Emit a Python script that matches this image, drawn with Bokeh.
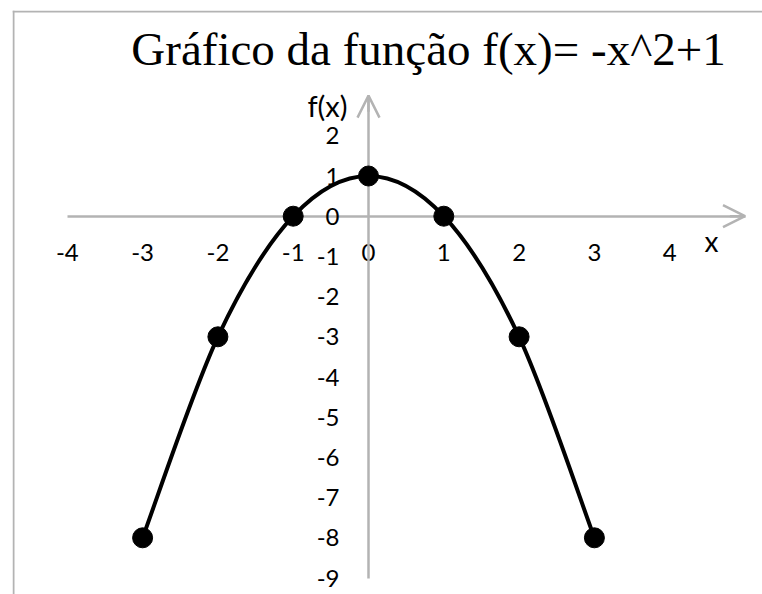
import numpy as np
from bokeh.plotting import figure
from bokeh.models import (FixedTicker, Range1d, Arrow, OpenHead, Label, Span)
from bokeh.embed import file_html
from bokeh.resources import INLINE

# ---- data ----
x_vals = [-3, -2, -1, 0, 1, 2, 3]
y_vals = [-8, -3, 0, 1, 0, -3, -8]
x_ticks = [-4, -3, -2, -1, 0, 1, 2, 3, 4]
y_ticks = [-9, -8, -7, -6, -5, -4, -3, -2, -1, 0, 1, 2]
x_axis_bounds = (-4, 5)
y_axis_bounds = (-9, 3)
title_text = "Gráfico da função f(x)= -x^2+1"
x_label_text = "x"
y_label_text = "f(x)"

GRAY = "#b3b3b3"
W, H = 762, 594
LEFT, TOP = 12, 10

# pixel mapping (page coordinates) used to set ranges
X0_PX, X_SCALE = 368.0, 75.3
Y0_PX, Y_SCALE = 215.7, 40.2
def dx(px):
    return (px - X0_PX) / X_SCALE
def dy(py):
    return (Y0_PX - py) / Y_SCALE

p = figure(width=W, height=H, output_backend="svg", toolbar_location=None,
           x_range=Range1d(dx(LEFT), dx(W)), y_range=Range1d(dy(H), dy(TOP)),
           min_border=0, min_border_left=LEFT, min_border_right=0,
           min_border_top=TOP, min_border_bottom=0)
p.outline_line_color = None
p.grid.visible = False
p.background_fill_color = "white"
p.border_fill_color = "white"

# axes crossing at the origin
for ax, ticks, bounds in ((p.xaxis[0], x_ticks, x_axis_bounds), (p.yaxis[0], y_ticks, y_axis_bounds)):
    ax.fixed_location = 0
    ax.ticker = FixedTicker(ticks=ticks)
    ax.major_label_overrides = {t: str(t) for t in ticks}
    ax.bounds = bounds
    ax.axis_line_color = GRAY
    ax.axis_line_width = 2.5
    ax.major_tick_line_color = None
    ax.minor_tick_line_color = None
    ax.major_tick_in = 0
    ax.major_tick_out = 0
    ax.major_label_text_font = "Lato"
    ax.major_label_text_font_size = "24px"
    ax.major_label_text_color = "black"
p.xaxis.major_label_standoff = 28
p.yaxis.major_label_standoff = 29

# arrow heads
p.add_layout(Arrow(end=OpenHead(size=22, line_color=GRAY, line_width=2.5),
                   x_start=x_axis_bounds[1] - 0.2, y_start=0, x_end=x_axis_bounds[1], y_end=0,
                   line_color=GRAY, line_width=2.5))
p.add_layout(Arrow(end=OpenHead(size=22, line_color=GRAY, line_width=2.5),
                   x_start=0, y_start=y_axis_bounds[1] - 0.4, x_end=0, y_end=y_axis_bounds[1],
                   line_color=GRAY, line_width=2.5))

# chart area border (left and top edges visible)
p.add_layout(Span(location=dx(LEFT + 1), dimension="height", line_color=GRAY, line_width=2))
p.add_layout(Span(location=dy(TOP + 1), dimension="width", line_color=GRAY, line_width=2))

# smoothed curve through the points (Catmull-Rom -> cubic Bezier)
xs = np.array(x_vals, dtype=float)
ys = np.array(y_vals, dtype=float)
n = len(xs)
px_ = np.concatenate([[xs[0]], xs, [xs[-1]]])
py_ = np.concatenate([[ys[0]], ys, [ys[-1]]])
x0 = xs[:-1]; y0 = ys[:-1]; x1 = xs[1:]; y1 = ys[1:]
cx0 = xs[:-1] + (px_[2:n + 1] - px_[0:n - 1]) / 6.0
cy0 = ys[:-1] + (py_[2:n + 1] - py_[0:n - 1]) / 6.0
cx1 = xs[1:] - (px_[3:n + 2] - px_[1:n]) / 6.0
cy1 = ys[1:] - (py_[3:n + 2] - py_[1:n]) / 6.0
curve = p.bezier(x0=x0, y0=y0, x1=x1, y1=y1, cx0=cx0, cy0=cy0, cx1=cx1, cy1=cy1,
                 line_color="black", line_width=4)
curve.level = "overlay"
pts = p.scatter(x=x_vals, y=y_vals, size=20, marker="circle",
                fill_color="black", line_color="black")
pts.level = "overlay"

# title and axis names
p.add_layout(Label(x=dx(428), y=dy(48), text=title_text, text_font="Liberation Serif",
                   text_font_size="47px", text_color="black",
                   text_align="center", text_baseline="middle"))
p.add_layout(Label(x=dx(327), y=dy(105), text=y_label_text, text_font="Lato",
                   text_font_size="29px", text_color="black",
                   text_align="center", text_baseline="middle"))
p.add_layout(Label(x=dx(711), y=dy(240), text=x_label_text, text_font="Lato",
                   text_font_size="28px", text_color="black",
                   text_align="center", text_baseline="middle"))

open("out.html", "w").write(file_html(p, INLINE))
